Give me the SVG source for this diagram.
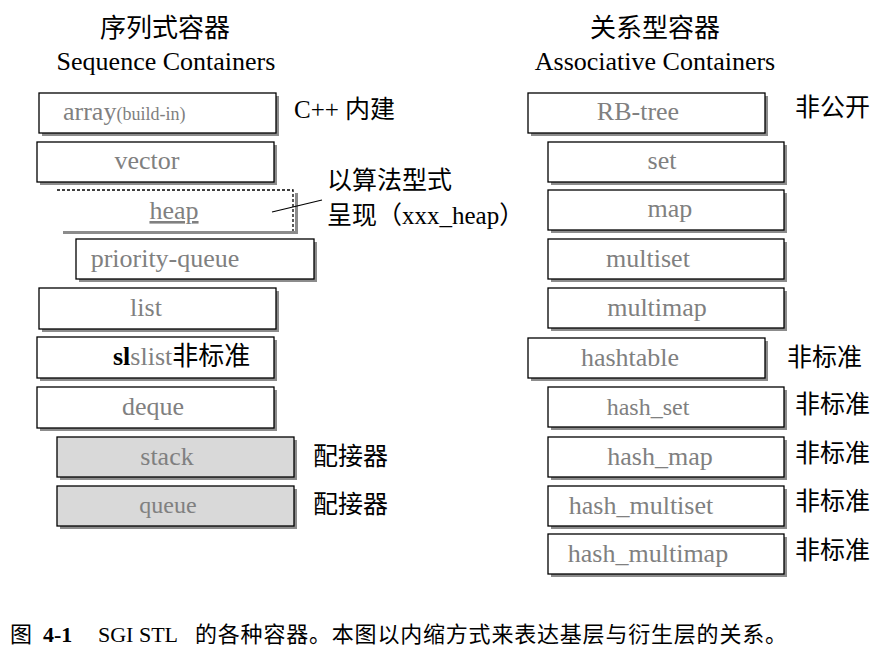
<svg xmlns="http://www.w3.org/2000/svg" width="895" height="651" viewBox="0 0 895 651">
<style>
.bx{fill:#fff;stroke:#000;stroke-width:1.3}
.ad{fill:#d9d9d9;stroke:#000;stroke-width:1.3}
.sh{fill:#8c8c8c}
.t{font-family:"Liberation Serif","Times New Roman",serif;font-size:26px;fill:#808080;text-anchor:middle}
.k{font-family:"Liberation Serif","Noto Sans CJK SC",serif;font-size:25px;fill:#000}
.h{font-family:"Liberation Serif","Noto Sans CJK SC",serif;font-size:26px;fill:#000;text-anchor:middle}
.c{font-family:"Liberation Serif","Noto Sans CJK SC",serif;font-size:22px;fill:#000}
</style>
<rect width="895" height="651" fill="#fff"/>
<g id="headers">
<text class="h" x="165" y="37">序列式容器</text>
<text class="h" x="166" y="70">Sequence Containers</text>
<text class="h" x="655" y="37">关系型容器</text>
<text class="h" x="655" y="70">Associative Containers</text>
</g>
<g id="array"><rect class="sh" x="42" y="96" width="237" height="40"/><rect class="bx" x="39" y="93" width="237" height="40"/>
<text class="t" x="63" y="120" style="text-anchor:start">array<tspan style="font-size:18px">(build-in)</tspan></text></g>
<text class="k" x="294" y="118">C++ 内建</text>
<g id="vector"><rect class="sh" x="40" y="145" width="237" height="40"/><rect class="bx" x="37" y="142" width="237" height="40"/><text class="t" x="147" y="169">vector</text></g>
<g id="heap"><path d="M63 232.5H296.5V193" fill="none" stroke="#8c8c8c" stroke-width="3"/>
<path d="M57 190H293V231" fill="none" stroke="#000" stroke-width="1.3" stroke-dasharray="3,2"/>
<text class="t" x="174" y="219" text-decoration="underline">heap</text></g>
<g id="heap-note"><text class="k" x="327" y="189">以算法型式</text><text class="k" x="327" y="224">呈现（xxx_heap）</text></g>
<g id="priority-queue"><rect class="sh" x="79" y="242" width="238" height="40"/><rect class="bx" x="76" y="239" width="238" height="40"/><text class="t" x="165" y="267">priority-queue</text></g>
<g id="list"><rect class="sh" x="42" y="291" width="237" height="41"/><rect class="bx" x="39" y="288" width="237" height="41"/><text class="t" x="146" y="316">list</text></g>
<g id="slist"><rect class="sh" x="40" y="340" width="237" height="41"/><rect class="bx" x="37" y="337" width="237" height="41"/>
<text class="k" x="113" y="365" style="font-size:26px"><tspan font-weight="bold">sl</tspan><tspan fill="#808080">slist</tspan>非标准</text></g>
<g id="deque"><rect class="sh" x="40" y="390" width="237" height="41"/><rect class="bx" x="37" y="387" width="237" height="41"/><text class="t" x="153" y="415">deque</text></g>
<g id="stack"><rect class="sh" x="60" y="440" width="237" height="40"/><rect class="ad" x="57" y="437" width="237" height="40"/><text class="t" x="167" y="465">stack</text></g>
<text class="k" x="313" y="465">配接器</text>
<g id="queue"><rect class="sh" x="60" y="489" width="237" height="40"/><rect class="ad" x="57" y="486" width="237" height="40"/><text class="t" x="168" y="513" style="font-size:24px">queue</text></g>
<text class="k" x="313" y="513">配接器</text>
<g id="rb-tree"><rect class="sh" x="531" y="96" width="237" height="40"/><rect class="bx" x="528" y="93" width="237" height="40"/><text class="t" x="638" y="120">RB-tree</text></g>
<text class="k" x="795" y="116">非公开</text>
<g id="set"><rect class="sh" x="551" y="145" width="236" height="40"/><rect class="bx" x="548" y="142" width="236" height="40"/><text class="t" x="662" y="169">set</text></g>
<g id="map"><rect class="sh" x="551" y="193" width="236" height="40"/><rect class="bx" x="548" y="190" width="236" height="40"/><text class="t" x="670" y="217">map</text></g>
<g id="multiset"><rect class="sh" x="551" y="242" width="236" height="40"/><rect class="bx" x="548" y="239" width="236" height="40"/><text class="t" x="648" y="267">multiset</text></g>
<g id="multimap"><rect class="sh" x="551" y="291" width="236" height="40"/><rect class="bx" x="548" y="288" width="236" height="40"/><text class="t" x="657" y="316">multimap</text></g>
<g id="hashtable"><rect class="sh" x="531" y="341" width="237" height="40"/><rect class="bx" x="528" y="338" width="237" height="40"/><text class="t" x="630" y="366">hashtable</text></g>
<text class="k" x="787" y="366">非标准</text>
<g id="hash_set"><rect class="sh" x="551" y="390" width="236" height="40"/><rect class="bx" x="548" y="387" width="236" height="40"/><text class="t" x="648" y="415" style="font-size:24px">hash_set</text></g>
<text class="k" x="795" y="413">非标准</text>
<g id="hash_map"><rect class="sh" x="551" y="440" width="236" height="40"/><rect class="bx" x="548" y="437" width="236" height="40"/><text class="t" x="660" y="465">hash_map</text></g>
<text class="k" x="795" y="462">非标准</text>
<g id="hash_multiset"><rect class="sh" x="551" y="489" width="236" height="40"/><rect class="bx" x="548" y="486" width="236" height="40"/><text class="t" x="641" y="514">hash_multiset</text></g>
<text class="k" x="795" y="510">非标准</text>
<g id="hash_multimap"><rect class="sh" x="551" y="537" width="236" height="40"/><rect class="bx" x="548" y="534" width="236" height="40"/><text class="t" x="648" y="562">hash_multimap</text></g>
<text class="k" x="795" y="559">非标准</text>
<g id="connectors"><line x1="272" y1="212" x2="322" y2="200" stroke="#000" stroke-width="1.2"/></g>
<g id="caption">
<text class="c" x="10" y="642">图</text>
<text class="c" x="43" y="642" font-weight="bold">4-1</text>
<text class="c" x="98" y="642">SGI STL</text>
<text class="c" x="195" y="642" textLength="592">的各种容器。本图以内缩方式来表达基层与衍生层的关系。</text>
</g>
</svg>
